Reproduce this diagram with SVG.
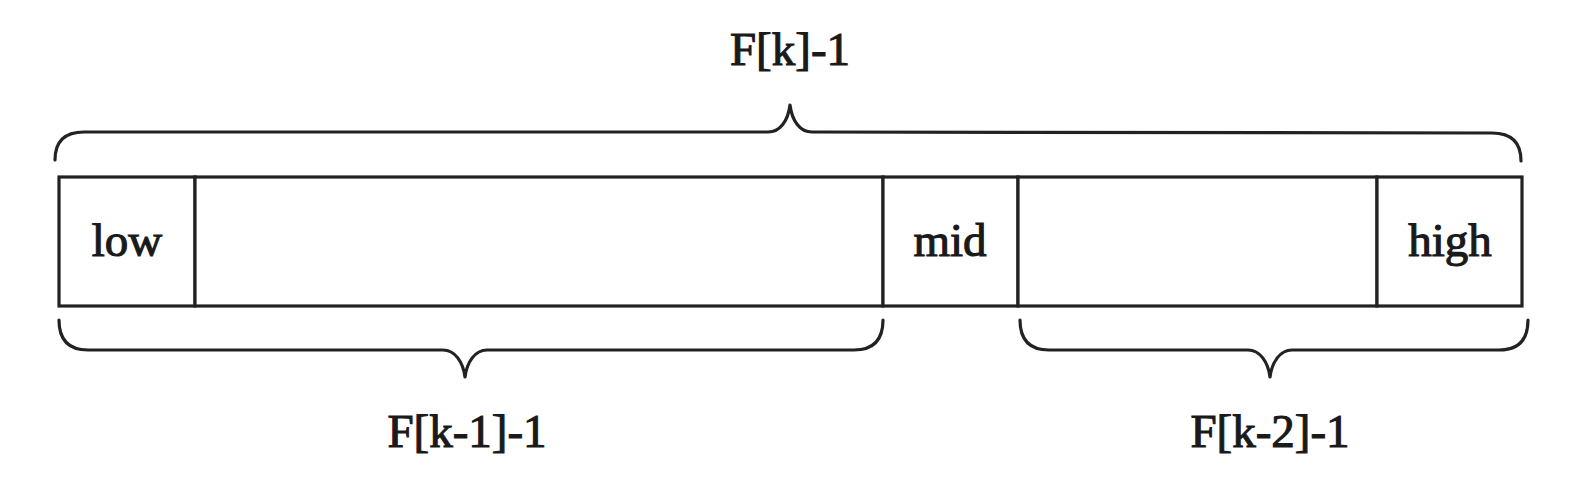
<svg xmlns="http://www.w3.org/2000/svg" width="1577" height="479" viewBox="0 0 1577 479">
<style>
.cell{fill:#fff;stroke:#222;stroke-width:3.2}
.brace{fill:none;stroke:#222;stroke-width:3.2;stroke-linejoin:round;stroke-linecap:round}
.t{font-family:"Liberation Serif","Times New Roman",serif;font-size:47px;fill:#1a1a1a;stroke:#1a1a1a;stroke-width:1.1;text-anchor:middle}
</style>
<rect width="1577" height="479" fill="#fff"/>
<g id="cell-low"><rect class="cell" x="59" y="177" width="136" height="129"/><text class="t" x="127" y="256">low</text></g>
<g id="cell-left"><rect class="cell" x="195" y="177" width="688" height="129"/></g>
<g id="cell-mid"><rect class="cell" x="883" y="177" width="135" height="129"/><text class="t" x="950" y="256">mid</text></g>
<g id="cell-right"><rect class="cell" x="1018" y="177" width="359" height="129"/></g>
<g id="cell-high"><rect class="cell" x="1377" y="177" width="145" height="129"/><text class="t" x="1450" y="256">high</text></g>
<g id="connectors">
<path id="brace-top" class="brace" d="M55,160 Q55,132 84,132 L768,132 C780,132 788,121 790,105 C792,121 800,132 812,132 L1492,133 Q1521,133 1521,161"/>
<path id="brace-left" class="brace" d="M59,320 Q59,350 88,350 L443,350 C455,350 463,362 465,377 C467,362 475,350 487,350 L854,350 Q883,350 883,320"/>
<path id="brace-right" class="brace" d="M1020,320 Q1020,350 1049,350 L1248,350 C1260,350 1268,362 1270,377 C1272,362 1280,350 1292,350 L1499,350 Q1528,350 1528,320"/>
</g>
<g id="labels">
<text class="t" x="790" y="65">F[k]-1</text>
<text class="t" x="467" y="447">F[k-1]-1</text>
<text class="t" x="1270" y="447">F[k-2]-1</text>
</g>
</svg>
